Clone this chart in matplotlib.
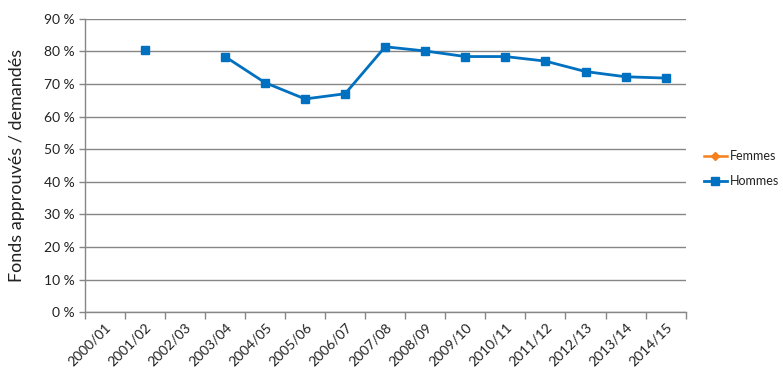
import numpy as np
import matplotlib
matplotlib.use("Agg")
import matplotlib.pyplot as plt
from matplotlib.ticker import FixedLocator, FuncFormatter

plt.rcParams['font.family'] = ['Lato', 'DejaVu Sans']

years = ["2000/01", "2001/02", "2002/03", "2003/04", "2004/05", "2005/06", "2006/07",
         "2007/08", "2008/09", "2009/10", "2010/11", "2011/12", "2012/13", "2013/14", "2014/15"]
hommes = [np.nan, 80.4, np.nan, 78.4, 70.4, 65.4, 67.0, 81.4, 80.1, 78.4, 78.4, 77.0, 73.8, 72.2, 71.8]
femmes = [np.nan] * 15
yticks = [0, 10, 20, 30, 40, 50, 60, 70, 80, 90]

blue = "#0070C0"
orange = "#F7801E"
grid = "#868686"

fig = plt.figure(figsize=(7.83, 3.84), dpi=100)
ax = fig.add_axes([0.1082, 0.1867, 0.8757 - 0.1082, 0.9513 - 0.1867])

x = np.arange(len(years))
ax.plot(x, femmes, color=orange, lw=1.8, marker="D", ms=4, label="Femmes")
ax.plot(x, hommes, color=blue, lw=2.0, marker="s", ms=6.2, label="Hommes")

ax.set_xlim(-0.5, len(years) - 0.5)
ax.set_ylim(0, 90)
ax.set_yticks(yticks)
ax.yaxis.set_major_formatter(FuncFormatter(lambda v, p: f"{int(v)} %"))
ax.grid(axis="y", color=grid, lw=1.0)
ax.set_axisbelow(True)

ax.set_xticks(x)
ax.set_xticklabels(years, rotation=45, ha="right", rotation_mode="anchor", fontsize=10, color="#222222")
ax.xaxis.set_minor_locator(FixedLocator(np.arange(-0.5, len(years), 1.0)))
ax.tick_params(axis="x", which="major", length=0, pad=6)
ax.tick_params(axis="x", which="minor", length=5, color=grid, width=1)
ax.tick_params(axis="y", length=4, color=grid, width=1, labelsize=10, labelcolor="#222222", pad=3)

for s in ["top", "right"]:
    ax.spines[s].set_visible(False)
for s in ["left", "bottom"]:
    ax.spines[s].set_color(grid)
    ax.spines[s].set_linewidth(1.0)

ax.set_ylabel("Fonds approuvés / demandés", fontsize=13, color="#222222", labelpad=14)

leg = ax.legend(loc="center left", bbox_to_anchor=(1.01, 0.49), frameon=False,
                fontsize=9, handlelength=1.8, handletextpad=0.25, labelspacing=1.05,
                borderaxespad=0.6)
for t in leg.get_texts():
    t.set_color("#222222")

fig.savefig("out.png", dpi=100)
